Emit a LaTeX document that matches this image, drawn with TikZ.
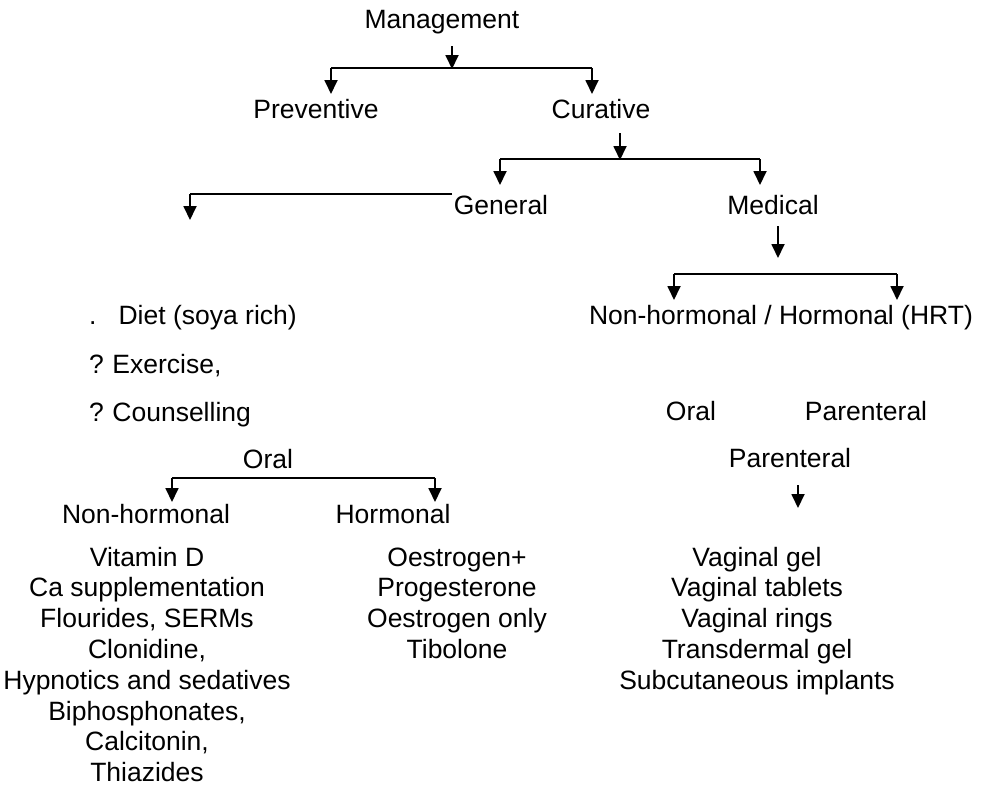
\documentclass[tikz,border=0pt]{standalone}
\usepackage{fontspec}
\setmainfont{Liberation Sans}
\usetikzlibrary{arrows.meta}
\begin{document}
\begin{tikzpicture}[x=1pt,y=-1pt,
  lbl/.style={anchor=base,inner sep=0pt,font=\fontsize{26.5}{31}\selectfont},
  lblw/.style={lbl,anchor=base west},
  arr/.style={line width=1.8pt,-{Triangle[width=13pt,length=14pt]}},
  bar/.style={line width=1.6pt}]
\useasboundingbox[fill=white] (0,0) rectangle (982,793);

% text nodes
\node[lbl] (mgmt) at (442,28) {Management};
\node[lbl] (prev) at (316,118) {Preventive};
\node[lbl] (cur) at (601,118) {Curative};
\node[lbl] (gen) at (501,214) {General};
\node[lbl] (med) at (773,214) {Medical};
\node[lblw] (diet) at (89,324) {.\hspace{22pt}Diet (soya rich)};
\node[lblw] (exer) at (89,373) {?\hspace{8.5pt}Exercise,};
\node[lblw] (couns) at (89,421) {?\hspace{8.5pt}Counselling};
\node[lbl] (nhh) at (781,324) {Non-hormonal / Hormonal (HRT)};
\node[lbl] (oralR) at (691,420) {Oral};
\node[lbl] (parR) at (866,420) {Parenteral};
\node[lbl] (oralL) at (268,468) {Oral};
\node[lbl] (parM) at (790,467) {Parenteral};
\node[lbl] (nonh) at (146,523) {Non-hormonal};
\node[lbl] (horm) at (393,523) {Hormonal};

\foreach \t [count=\i] in {Vitamin D, Ca supplementation, {Flourides, SERMs}, {Clonidine,}, Hypnotics and sedatives, {Biphosphonates,}, {Calcitonin,}, Thiazides}
  \node[lbl] (nh\i) at (147,{566+30.8*(\i-1)}) {\t};
\foreach \t [count=\i] in {Oestrogen+, Progesterone, Oestrogen only, Tibolone}
  \node[lbl] (ho\i) at (457,{566+30.8*(\i-1)}) {\t};
\foreach \t [count=\i] in {Vaginal gel, Vaginal tablets, Vaginal rings, Transdermal gel, Subcutaneous implants}
  \node[lbl] (pa\i) at (757,{566+30.8*(\i-1)}) {\t};

% junction coordinates
\coordinate (m0) at (452,46);
\coordinate (mJ) at (452,69);
\coordinate (mL) at (331,68);
\coordinate (mR) at (592,68);
\coordinate (mLe) at (331,94);
\coordinate (mRe) at (592,94);

\coordinate (c0) at (620,133);
\coordinate (cJ) at (620,160);
\coordinate (cL) at (500,159);
\coordinate (cR) at (760,159);
\coordinate (cLe) at (500,185);
\coordinate (cRe) at (760,185);

\coordinate (g0) at (452,194);
\coordinate (gL) at (190,194);
\coordinate (gLe) at (190,220);

\coordinate (d0) at (778,226);
\coordinate (dJ) at (778,258);
\coordinate (dL) at (674,274);
\coordinate (dR) at (897,274);
\coordinate (dLe) at (674,300);
\coordinate (dRe) at (897,300);

\coordinate (oL) at (172,478);
\coordinate (oR) at (435,478);
\coordinate (oLe) at (172,502);
\coordinate (oRe) at (435,502);

\coordinate (p0) at (798,485);
\coordinate (pE) at (798,508);

% connectors
\draw[arr] (m0) -- (mJ);
\draw[bar] (mL) -- (mR);
\draw[arr] (mL) -- (mLe);
\draw[arr] (mR) -- (mRe);

\draw[arr] (c0) -- (cJ);
\draw[bar] (cL) -- (cR);
\draw[arr] (cL) -- (cLe);
\draw[arr] (cR) -- (cRe);

\draw[bar] (g0) -- (gL);
\draw[arr] (gL) -- (gLe);

\draw[arr] (d0) -- (dJ);
\draw[bar] (dL) -- (dR);
\draw[arr] (dL) -- (dLe);
\draw[arr] (dR) -- (dRe);

\draw[bar] (oL) -- (oR);
\draw[arr] (oL) -- (oLe);
\draw[arr] (oR) -- (oRe);

\draw[arr] (p0) -- (pE);
\end{tikzpicture}
\end{document}
